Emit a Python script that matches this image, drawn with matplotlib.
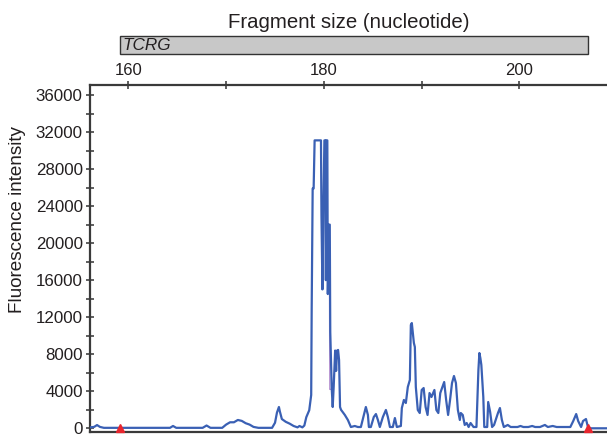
import matplotlib
matplotlib.use('Agg')
import matplotlib.pyplot as plt
from matplotlib.patches import Rectangle
from matplotlib.ticker import MultipleLocator
import matplotlib.transforms as mtransforms

# trace in three pieces: fragment size (nt) / intensity
# baseline before the main peak
size_left = [156.08, 156.5, 156.8, 157.1, 157.5, 164.26, 164.57, 164.9,
             167.6, 168.0, 168.4, 169.6, 170.0, 170.4, 170.8, 171.2,
             171.6, 172.0, 172.4, 172.8, 173.3, 174.7, 175.0, 175.2,
             175.4, 175.5, 175.7, 176.1, 176.5, 176.9, 177.3, 177.5,
             177.8]
int_left = [100, 150, 350, 150, 50, 50, 250, 50,
            50, 300, 50, 50, 400, 650, 650, 900,
            800, 550, 400, 150, 50, 50, 600, 1700,
            2300, 1800, 1000, 700, 500, 250, 100, 250,
            100]

# saturated main peak and its shoulder
size_peak = [178.0, 178.2, 178.5, 178.7, 178.75, 178.85, 178.95, 179.05,
             179.7, 179.75, 179.85, 179.95, 180.05, 180.15, 180.2, 180.25,
             180.35, 180.4, 180.5, 180.6, 180.65, 180.8, 180.9, 181.0,
             181.15, 181.25, 181.35, 181.45, 181.55, 181.65, 181.75, 182.14,
             182.45, 182.76]
int_peak = [300, 1200, 1950, 3600, 12800, 25900, 25900, 31100,
            31100, 23000, 15000, 24000, 31100, 31100, 16000, 31100,
            31100, 14500, 22000, 22000, 10400, 4300, 2300, 4500,
            8400, 6200, 8400, 8460, 7380, 2300, 2000, 1440,
            900, 140]

# smaller peaks to the right
size_right = [183.16, 183.47, 183.78, 184.09, 184.29, 184.5, 184.6, 184.8,
              185.1, 185.32, 185.52, 185.72, 186.03, 186.34, 186.54, 186.75,
              187.05, 187.26, 187.46, 187.87, 187.97, 188.18, 188.38, 188.58,
              188.79, 188.89, 188.99, 189.2, 189.3, 189.4, 189.6, 189.8,
              190.0, 190.2, 190.4, 190.6, 190.8, 191.0, 191.3, 191.5,
              191.7, 191.9, 192.2, 192.3, 192.5, 192.7, 192.9, 193.1,
              193.3, 193.5, 193.7, 193.9, 194.0, 194.2, 194.4, 194.6,
              194.8, 195.0, 195.3, 195.6, 195.8, 195.9, 196.0, 196.1,
              196.3, 196.4, 196.7, 196.8, 197.0, 197.2, 197.4, 197.8,
              198.0, 198.2, 198.4, 198.8, 199.1, 199.8, 200.1, 200.4,
              200.9, 201.3, 201.6, 202.1, 202.6, 202.9, 203.4, 203.8,
              205.2, 205.5, 205.8, 206.0, 206.3, 206.5, 206.8, 207.0,
              207.3, 208.95]
int_right = [250, 140, 140, 1440, 2300, 1440, 140, 140,
             1220, 1540, 900, 140, 1220, 1980, 1220, 140,
             140, 1110, 140, 250, 2190, 3060, 2730, 4460,
             5220, 11160, 11370, 9220, 8780, 4460, 1980, 1650,
             4140, 4350, 2300, 1440, 3810, 3380, 4140, 1980,
             1650, 3810, 4680, 5000, 3060, 1440, 3060, 4890,
             5650, 4890, 1980, 900, 1650, 1440, 360, 570,
             140, 570, 140, 140, 6300, 8130, 7590, 6840,
             3380, 140, 140, 2840, 1760, 140, 360, 1650,
             2190, 900, 140, 360, 140, 140, 250, 140,
             140, 250, 140, 140, 360, 140, 250, 140,
             140, 790, 1540, 790, 140, 790, 1000, 140,
             0, 0]

# second dye, only visible beside the main peak
dye2_size = [180.5, 180.55, 180.6, 180.65]
dye2_int = [20800, 20800, 4200, 4200]

# size standard markers (red triangles) and the TCRG bin
marker_size = [159.1, 207.0]
bin_start, bin_end = 159.1, 207.0
bin_label = 'TCRG'

major_x = [160, 180, 200]
minor_x = [170, 190]

size = size_left + size_peak + size_right
intensity = int_left + int_peak + int_right

plt.rcParams['font.family'] = 'Liberation Sans'
ink = '#231f20'

fig = plt.figure(figsize=(6.07, 4.37), dpi=100)
ax = fig.add_axes([90 / 607, 5 / 437, 517 / 607, 347 / 437])

ax.plot(dye2_size, dye2_int, color='#b48fd0', lw=0.9, zorder=2)
ax.plot(size, intensity, color='#3a60b4', lw=1.6, zorder=3)
ax.plot(marker_size, [0, 0], linestyle='none', marker='^', markersize=6,
        color='#e8262e', clip_on=False, zorder=4)

ax.set_xlim(156.08, 208.95)
ax.set_ylim(-400, 37080)

ax.xaxis.tick_top()
ax.set_xticks(major_x)
ax.set_xticks(minor_x, minor=True)
ax.yaxis.set_major_locator(MultipleLocator(4000))
ax.yaxis.set_minor_locator(MultipleLocator(2000))
ax.tick_params(axis='both', which='both', direction='inout', length=5.5,
               width=1.1, color='#333333', labelcolor=ink)
ax.tick_params(axis='x', which='both', pad=2, labelsize=12)
ax.tick_params(axis='y', which='both', pad=2.5, labelsize=12.2)

for side in ['left', 'top', 'bottom']:
    ax.spines[side].set_linewidth(1.6)
    ax.spines[side].set_color('#3a3a3a')
ax.spines['right'].set_visible(False)

ax.text(-0.14, 0.611, 'Fluorescence intensity', transform=ax.transAxes,
        rotation=90, ha='center', va='center', fontsize=13.6, color=ink)

# gray bin bar above the top axis
trans = mtransforms.blended_transform_factory(ax.transData, ax.transAxes)
ax.add_patch(Rectangle((bin_start, 1.0893), bin_end - bin_start, 0.0519,
                       transform=trans, clip_on=False, facecolor='#c8c8c8',
                       edgecolor='#333333', lw=1.0))
ax.text(bin_start + 0.3, 1.115, bin_label, transform=trans, style='italic',
        ha='left', va='center', fontsize=12.3, color=ink)

fig.text(349 / 607, 1 - 28 / 437, 'Fragment size (nucleotide)', ha='center',
         va='baseline', fontsize=14.7, color=ink)

fig.savefig('out.png', dpi=100)
